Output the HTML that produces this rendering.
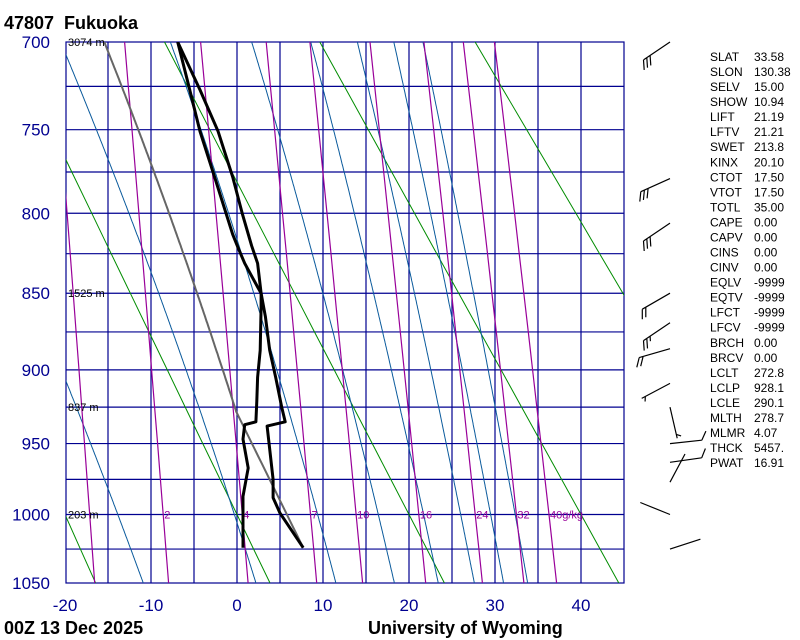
<!DOCTYPE html>
<html><head><meta charset="utf-8">
<style>
html,body{margin:0;padding:0;background:#fff;}
svg{display:block;font-family:"Liberation Sans",sans-serif;}
</style></head>
<body>
<svg id="chart" width="800" height="640" viewBox="0 0 800 640" xmlns="http://www.w3.org/2000/svg">
  <rect x="0" y="0" width="800" height="640" fill="#fff"/>
  <defs><clipPath id="plotclip"><rect x="66" y="42" width="558" height="541"/></clipPath></defs>
  <g id="grid"></g>
  <g id="lines" clip-path="url(#plotclip)"></g>
  <g id="profiles" clip-path="url(#plotclip)"></g>
  <g id="labels"></g>
  <g id="barbs"></g>
  <g id="indices"></g>
  <text x="4" y="29" font-size="18" font-weight="bold" fill="#000" style="white-space:pre">47807  Fukuoka</text>
  <text x="4" y="634" font-size="18" font-weight="bold" fill="#000">00Z 13 Dec 2025</text>
  <text x="368" y="634" font-size="18" font-weight="bold" fill="#000">University of Wyoming</text>
</svg>
<script>
// ---- data ----
const pressureTicks = [700, 750, 800, 850, 900, 950, 1000, 1050];
const tempTicks = [-20, -10, 0, 10, 20, 30, 40];
const thetaValues = [253.15, 273.15, 293.15, 313.15, 333.15];
const moistStartTemps = [-10.9, 2.2, 11.5, 18.3, 23.4, 27.6, 31, 33.8];
const mixingRatios = [1, 2, 4, 7, 10, 16, 24, 32, 40];
const mixingLabels = ["", "2", "4", "7", "10", "16", "24", "32", "40g/kg"];
const tempPressure = [700, 727, 751, 778, 800, 820, 831, 850, 865, 887, 905, 925, 935, 938, 975, 988, 999, 1024];
const tempValues = [-6.9, -4.3, -2.2, -0.5, 0.6, 1.7, 2.4, 2.8, 3.3, 3.8, 4.5, 5.2, 5.6, 3.5, 4.2, 4.2, 5.0, 7.7];
const dewPressure = [700, 723, 751, 778, 813, 821, 831, 846, 850, 859, 887, 905, 921, 935, 937, 947, 967, 987, 1024];
const dewValues = [-6.9, -5.7, -4.3, -2.6, -0.5, 0.1, 0.9, 2.4, 2.8, 2.8, 2.7, 2.4, 2.3, 2.2, 0.9, 0.7, 1.3, 0.7, 0.7];
const heightPressure = [700, 850, 925, 1000];
const heightLabels = ["3074 m", "1525 m", "837 m", "203 m"];
const surfacePressure = 1024, surfaceTemp = 7.7, lclPressure = 928.1;
const barbPressure = [700, 779, 806, 850, 869, 886, 909, 925, 950, 963, 977, 1000, 1025];
const barbDirection = [236, 246, 236, 240, 236, 254, 242, 167, 84, 82, 28, 292, 72];
const barbSpeed = [30, 30, 30, 20, 25, 20, 5, 5, 10, 10, 0, 0, 0];
const indexNames = ["SLAT","SLON","SELV","SHOW","LIFT","LFTV","SWET","KINX","CTOT","VTOT","TOTL","CAPE","CAPV","CINS","CINV","EQLV","EQTV","LFCT","LFCV","BRCH","BRCV","LCLT","LCLP","LCLE","MLTH","MLMR","THCK","PWAT"];
const indexValues = ["33.58","130.38","15.00","10.94","21.19","21.21","213.8","20.10","17.50","17.50","35.00","0.00","0.00","0.00","0.00","-9999","-9999","-9999","-9999","0.00","0.00","272.8","928.1","290.1","278.7","4.07","5457.","16.91"];

// ---- axes ----
const K = 0.286;
const P0 = Math.pow(700, K), P1 = Math.pow(1050, K);
function yOf(p){ return 42 + 541 * (Math.pow(p, K) - P0) / (P1 - P0); }
function xOf(t){ return 237 + 8.6 * t; }
const NS = "http://www.w3.org/2000/svg";
function mk(tag, attrs, parent){
  const e = document.createElementNS(NS, tag);
  for (const k in attrs) e.setAttribute(k, attrs[k]);
  parent.appendChild(e);
  return e;
}
function es(t){ return 6.112 * Math.exp(17.67 * t / (t + 243.5)); }
function pathD(pts){ return pts.map((q,i)=>(i?"L":"M")+q[0].toFixed(1)+" "+q[1].toFixed(1)).join(" "); }
function moistPath(p0, t0, pEnd){
  const Rd=287.04, cp=1005.7, Lv=2.5e6, eps=0.622;
  let T = t0 + 273.15, pts=[];
  for (let p=p0; p>=pEnd; p-=1){
    pts.push([xOf(T-273.15), yOf(p)]);
    const e = es(T-273.15), rs = eps*e/(p-e);
    const dTdp = (1/p)*(Rd*T + Lv*rs)/(cp + Lv*Lv*rs*eps/(Rd*T*T));
    T -= dTdp*1;
  }
  return pts;
}

const grid = document.getElementById('grid');
const lines = document.getElementById('lines');
const prof = document.getElementById('profiles');
const labels = document.getElementById('labels');

for (let t=-15; t<=40; t+=5){
  const l = mk('line',{x1:xOf(t),x2:xOf(t),y1:42,y2:583,stroke:'#000090','stroke-width':1.2},grid);
  
  
}
for (let p=725; p<=1025; p+=25){
  const l = mk('line',{x1:66,x2:624,y1:yOf(p),y2:yOf(p),stroke:'#000090','stroke-width':1.2},grid);
  
  
}
const frame = mk('rect',{x:66,y:42,width:558,height:541,fill:'none',stroke:'#000090','stroke-width':1.2},grid);



thetaValues.forEach(th=>{
  const pts=[];
  for (let p=600; p<=1050; p+=25) pts.push([xOf(th*Math.pow(p/1000,K)-273.15), yOf(p)]);
  const e = mk('path',{d:pathD(pts),fill:'none',stroke:'#008c00','stroke-width':1},lines);
  
  
});
moistStartTemps.forEach(t0=>{
  const e = mk('path',{d:pathD(moistPath(1050,t0,690)),fill:'none',stroke:'#0a5a9c','stroke-width':1},lines);
  
  
});
function tdFromW(w,p){ const e=w*p/(622+w); const a=Math.log(e/6.112); return 243.5*a/(17.67-a); }
mixingRatios.forEach((w,i)=>{
  const pts=[];
  for (let p=700; p<=1050; p+=25) pts.push([xOf(tdFromW(w,p)), yOf(p)]);
  const e = mk('path',{d:pathD(pts),fill:'none',stroke:'#990099','stroke-width':1.2},lines);
  
  
  if (mixingLabels[i]){
    const tx = mk('text',{x:xOf(tdFromW(w,1000))+1,y:yOf(1000)+4,'font-size':11,fill:'#990099'},lines);
    tx.textContent = mixingLabels[i];
    
    
  }
});

(function(){
  const th = (surfaceTemp+273.15)*Math.pow(1000/surfacePressure,K);
  const pts=[];
  for (let p=surfacePressure; p>lclPressure; p-=5) pts.push([xOf(th*Math.pow(p/1000,K)-273.15), yOf(p)]);
  const tl = th*Math.pow(lclPressure/1000,K)-273.15;
  const m = moistPath(lclPressure, tl, 690);
  const e = mk('path',{d:pathD(pts.concat(m)),fill:'none',stroke:'#666','stroke-width':2},prof);
  
  
})();
const tP = mk('path',{d:pathD(tempPressure.map((p,i)=>[xOf(tempValues[i]),yOf(p)])),fill:'none',stroke:'#000','stroke-width':3,'stroke-linejoin':'round'},prof);


const dP = mk('path',{d:pathD(dewPressure.map((p,i)=>[xOf(dewValues[i]),yOf(p)])),fill:'none',stroke:'#000','stroke-width':3,'stroke-linejoin':'round'},prof);



pressureTicks.forEach(p=>{
  const t = mk('text',{x:50,y:yOf(p)+6,'font-size':17,fill:'#000090','text-anchor':'end'},labels);
  t.textContent = p;
  
  
});
tempTicks.forEach(v=>{
  const t = mk('text',{x:xOf(v),y:611,'font-size':17,fill:'#000090','text-anchor':'middle'},labels);
  t.textContent = v;
  
  
});
heightPressure.forEach((p,i)=>{
  const t = mk('text',{x:68,y:yOf(p)+4,'font-size':11,fill:'#000'},labels);
  t.textContent = heightLabels[i];
  
  
});

const barbs = document.getElementById('barbs');
barbPressure.forEach((p,i)=>{
  const ox=670, oy=yOf(p);
  const d = barbDirection[i]*Math.PI/180;
  const ux=Math.sin(d), uy=-Math.cos(d);
  const L=32;
  const ex=ox+ux*L, ey=oy+uy*L;
  let dstr = "M"+ox.toFixed(1)+" "+oy.toFixed(1)+" L"+ex.toFixed(1)+" "+ey.toFixed(1);
  const a = -Math.PI/3;
  const tx = ux*Math.cos(a)-uy*Math.sin(a), ty = ux*Math.sin(a)+uy*Math.cos(a);
  let s = barbSpeed[i], k=0;
  while (s>=10){ const bx=ex-ux*4*k, by=ey-uy*4*k; dstr+=" M"+bx.toFixed(1)+" "+by.toFixed(1)+" l"+(tx*10).toFixed(1)+" "+(ty*10).toFixed(1); s-=10; k++; }
  if (s>=5){ const bx=ex-ux*4*(k||1), by=ey-uy*4*(k||1); dstr+=" M"+bx.toFixed(1)+" "+by.toFixed(1)+" l"+(tx*5).toFixed(1)+" "+(ty*5).toFixed(1); }
  const e = mk('path',{d:dstr,fill:'none',stroke:'#000','stroke-width':1.2},barbs);
  
  
});

const ind = document.getElementById('indices');
indexNames.forEach((n,i)=>{
  const y = 61 + i*15.04;
  const a = mk('text',{x:710,y:y,'font-size':12,fill:'#000'},ind);
  a.textContent = n;
  
  
  const b = mk('text',{x:754,y:y,'font-size':12,fill:'#000'},ind);
  b.textContent = indexValues[i];
  
  
});
</script>
</body></html>
